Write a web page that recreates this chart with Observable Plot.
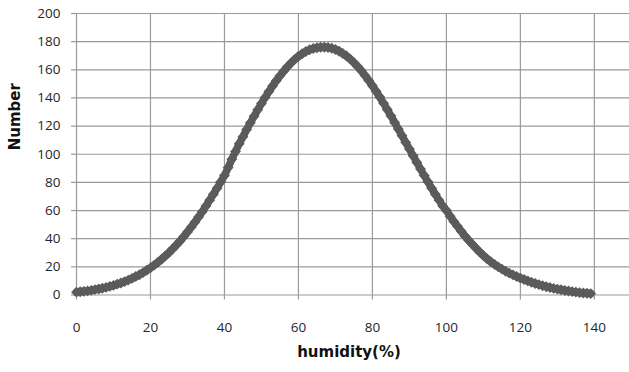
<!DOCTYPE html>
<html>
<head>
<meta charset="utf-8">
<script src="https://cdn.jsdelivr.net/npm/d3@7"></script>
<script src="https://cdn.jsdelivr.net/npm/@observablehq/plot@0.6"></script>
<style>
  html, body { margin: 0; padding: 0; background: #ffffff; }
  #chart { width: 629px; height: 372px; }
</style>
</head>
<body>
<div id="chart"></div>
<script>
const counts = [
  2.0, 2.3, 2.6, 2.9, 3.3, 3.8, 4.3, 4.8, 5.4, 6.1,
  6.8, 7.7, 8.5, 9.5, 10.6, 11.8, 13.1, 14.4, 15.9, 17.6,
  19.3, 21.2, 23.2, 25.4, 27.7, 30.1, 32.8, 35.5, 38.4, 41.5,
  44.8, 48.2, 51.7, 55.4, 59.2, 63.3, 67.4, 71.6, 75.9, 80.4,
  84.9, 90.5, 96.5, 102, 107.5, 112.5, 117.5, 122.3, 127, 131.6,
  136.1, 140.4, 144.5, 148.5, 152.2, 155.7, 159, 162.1, 164.9, 167.4,
  169.6, 171.4, 173, 174.2, 175.1, 175.7, 176, 176, 175.8, 175.3,
  174.4, 173.2, 171.6, 169.8, 167.6, 165.1, 162.3, 159.3, 155.9, 152.4,
  148.7, 144.7, 140.6, 136.3, 131.8, 127.3, 122.6, 117.9, 113.2, 108.4,
  103.7, 98.9, 94.2, 89.5, 84.9, 80.4, 75.9, 71.6, 67.4, 63.3,
  60, 56, 52.3, 48.8, 45.3, 42, 38.9, 36, 33.2, 30.5,
  28, 25.7, 23.6, 21.8, 20, 18.4, 16.9, 15.5, 14.3, 13.1,
  12, 11, 10, 9.1, 8.2, 7.4, 6.6, 5.9, 5.3, 4.7,
  4.2, 3.7, 3.2, 2.8, 2.4, 2.0, 1.7, 1.4, 1.2, 1.0
];
// humidity (%) of each observation
const humidity = counts.map((_, i) => i);

const xTicks = [0, 20, 40, 60, 80, 100, 120, 140];
const yTicks = [0, 20, 40, 60, 80, 100, 120, 140, 160, 180, 200];
const xTitle = ["humidity(%)"];
const yTitle = ["Number"];

const data = humidity.map((h, i) => ({ humidity: h, count: counts[i] }));

const gridColor = "#9a9a9a";
const textColor = "#262626";
const markColor = "#5b5b5b";

const chart = Plot.plot({
  width: 629,
  height: 372,
  marginLeft: 76,
  marginRight: 0,
  marginTop: 13,
  marginBottom: 77.5,
  style: { fontFamily: "'Open Sans', sans-serif", fontSize: "13.5px", background: "#ffffff", overflow: "visible" },
  x: { domain: [0, 149.5] },
  y: { domain: [0, 200] },
  marks: [
    Plot.gridY(yTicks, { stroke: gridColor, strokeOpacity: 1, strokeWidth: 1.2 }),
    Plot.gridX(xTicks, { stroke: gridColor, strokeOpacity: 1, strokeWidth: 1.2 }),
    Plot.axisY(yTicks, { tickSize: 5, tickPadding: 11, stroke: gridColor, strokeWidth: 1.2, fill: textColor, label: null }),
    Plot.axisX(xTicks, { tickSize: 5, tickPadding: 22, stroke: gridColor, strokeWidth: 1.2, fill: textColor, label: null }),
    Plot.line(data, { x: "humidity", y: "count", stroke: markColor, strokeWidth: 7.5, curve: "linear" }),
    Plot.dot(data, { x: "humidity", y: "count", symbol: "diamond2", r: 4.9, fill: markColor, stroke: "none" }),
    Plot.text(yTitle, { text: d => d, frameAnchor: "left", dx: -61.5, dy: -4, rotate: -90, fontFamily: "'DejaVu Sans', sans-serif", fontWeight: "bold", fontSize: 15, fill: "#111" }),
    Plot.text(xTitle, { text: d => d, frameAnchor: "bottom", dx: -4, dy: 62, fontFamily: "'DejaVu Sans', sans-serif", fontWeight: "bold", fontSize: 15, fill: "#111" })
  ]
});
document.getElementById("chart").appendChild(chart);
</script>
</body>
</html>
